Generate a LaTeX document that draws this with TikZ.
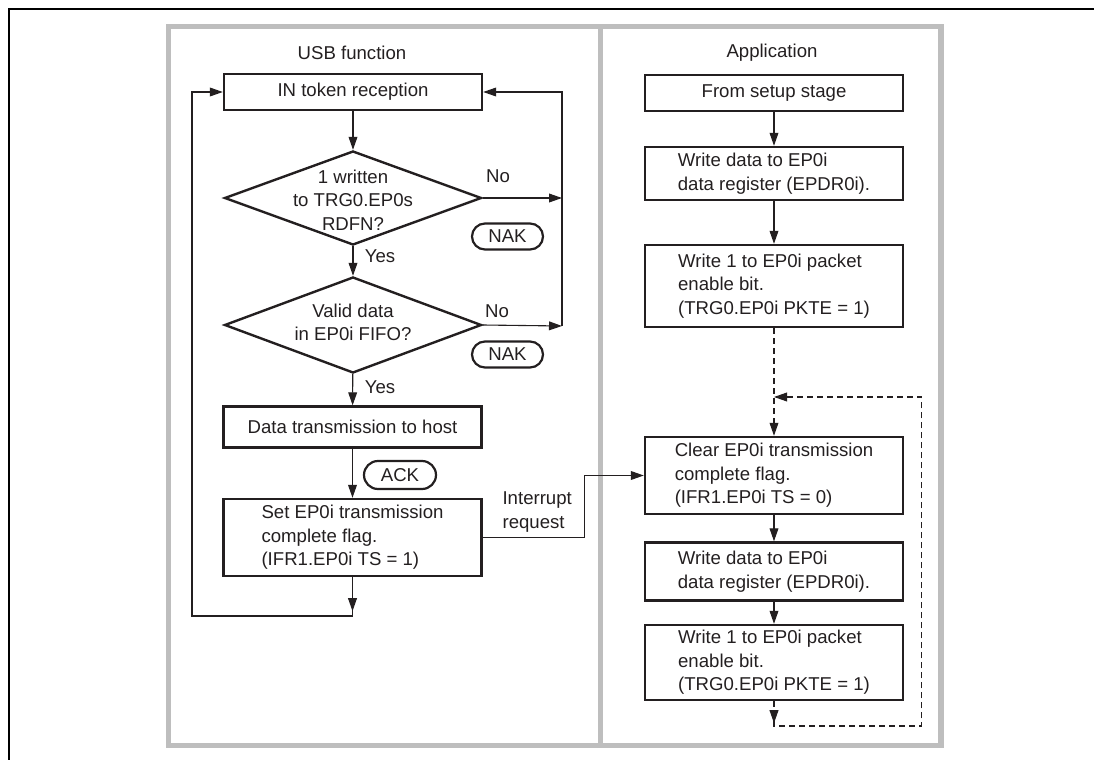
\documentclass[tikz,border=0pt]{standalone}
\usepackage{fontspec}
\setmainfont{Liberation Sans}
\usetikzlibrary{arrows.meta,shapes.geometric}
\definecolor{ink}{RGB}{35,31,32}
\definecolor{panel}{RGB}{190,190,190}
\begin{document}
\begin{tikzpicture}[x=0.5pt,y=-0.5pt,
  font=\fontsize{9.3}{11.8}\selectfont,
  every node/.style={text=ink},
  arr/.style={draw=ink,line width=0.55pt,-{Triangle[length=6.5pt,width=4.4pt]}},
  dashline/.style={dash pattern=on 3pt off 2pt},
  box/.style={draw=ink,line width=1.2pt,minimum width=129pt,inner sep=0pt,align=left},
  decision/.style={diamond,draw=ink,line width=1.2pt,inner sep=0pt,minimum width=128.5pt},
  oval/.style={draw=ink,line width=1.1pt,rounded corners=6.5pt,minimum width=35.5pt,minimum height=13pt,inner sep=0pt}]
\useasboundingbox (0,0) rectangle (1094,760);
\draw[line width=1pt] (9,760) -- (9,9) -- (1094,9);
\draw[panel,line width=2.75pt] (168.5,26.5) rectangle (941,745.5);
\draw[panel,line width=2.75pt] (600.5,26.5) -- (600.5,745.5);

\node (usb) at (352,53) {USB function};
\node (app) at (772,53) {Application};

\node[box,minimum height=18pt] (in) at (353,92) {IN token reception};
\node[decision,minimum height=47pt] (d1) at (353,198) {};
\node[align=center] (q1) at (353,200) {1 written\\to TRG0.EP0s\\RDFN?};
\node[decision,minimum height=48pt] (d2) at (353,325) {};
\node[align=center] (q2) at (353,322.5) {Valid data\\in EP0i FIFO?};
\node[box,minimum height=20.5pt] (tx) at (352.5,427) {Data transmission to host};
\node[box,minimum height=38.5pt] (setf) at (352.5,537.5) {Set EP0i transmission\\complete flag.\\(IFR1.EP0i TS = 1)};

\node[oval] (nak1) at (507.5,236.5) {NAK};
\node[oval] (nak2) at (507.5,354.5) {NAK};
\node[oval,minimum width=36pt,minimum height=14pt,rounded corners=7pt] (ack) at (400,475) {ACK};
\node (no1) at (498,176) {No};
\node (no2) at (497,311) {No};
\node (yes1) at (380,256) {Yes};
\node (yes2) at (380,387) {Yes};
\node[anchor=west,align=left] (irq) at (495.5,512) {Interrupt\\request};

\node[box,minimum height=18pt] (setup) at (774,93) {From setup stage};
\node[box,minimum height=26.5pt] (wd1) at (774,173.5) {Write data to EP0i\\data register (EPDR0i).};
\node[box,minimum height=41pt] (we1) at (774,286) {Write 1 to EP0i packet\\enable bit.\\(TRG0.EP0i PKTE = 1)};
\node[box,minimum height=38.5pt] (clr) at (774,475.5) {Clear EP0i transmission\\complete flag.\\(IFR1.EP0i TS = 0)};
\node[box,minimum height=29pt] (wd2) at (774,571.5) {Write data to EP0i\\data register (EPDR0i).};
\node[box,minimum height=37.5pt] (we2) at (774,662.5) {Write 1 to EP0i packet\\enable bit.\\(TRG0.EP0i PKTE = 1)};

\draw[arr] (in) -- (d1);
\draw[arr] (d1) -- (d2);
\draw[arr] (d2) -- (tx);
\draw[arr] (tx) -- (setf);
\coordinate (lb) at (352.5,616);
\coordinate (ll) at (192,616);
\draw[arr] (setf.south) -- ++(0,34);
\draw[arr] (setf.south) -- (lb) -- (ll) |- (in.west);
\coordinate (rt) at (562,326);
\draw[arr] (d1.east) -- (d1.east -| rt);
\draw[arr] (d2.east) -- (rt);
\draw[arr] (rt) |- (in.east);
\draw[arr] (setf.east) -- ++(102,0) |- (clr.west);

\draw[arr] (setup) -- (wd1);
\draw[arr] (wd1) -- (we1);
\coordinate (dt) at (774,397);
\draw[arr,dashline] (we1) -- (clr);
\draw[arr] (clr) -- (wd2);
\draw[arr] (wd2) -- (we2);
\coordinate (db) at (774,726);
\coordinate (dr) at (921.5,726);
\draw[arr,dashline] (we2.south) -- ++(0,22);
\draw[arr,dashline] (we2.south) -- (db) -- (dr) |- (dt);
\end{tikzpicture}
\end{document}
